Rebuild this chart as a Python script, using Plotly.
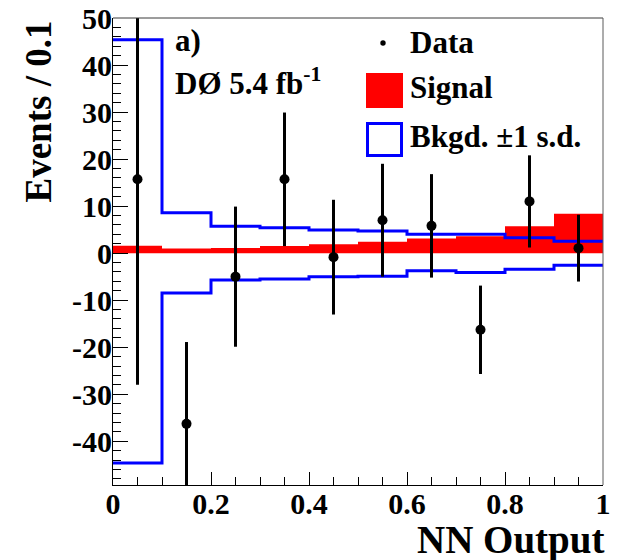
import plotly.graph_objects as go

# ---- data ----
bin_edges = [0.0, 0.1, 0.2, 0.3, 0.4, 0.5, 0.6, 0.7, 0.8, 0.9, 1.0]
bin_centers = [0.05, 0.15, 0.25, 0.35, 0.45, 0.55, 0.65, 0.75, 0.85, 0.95]
data_vals = [15.7, -36.3, -5.0, 15.7, -0.85, 7.0, 5.8, -16.3, 11.0, 1.06]
data_errs = [43.7, 17.4, 14.9, 14.2, 12.2, 12.0, 11.0, 9.4, 9.8, 7.1]
signal_vals = [1.55, 1.0, 1.1, 1.5, 1.9, 2.4, 3.1, 3.6, 5.7, 8.4]
bkgd_up = [45.4, 8.6, 5.7, 5.4, 4.9, 4.7, 4.0, 4.0, 3.25, 2.55]
bkgd_dn = [-44.6, -8.5, -5.7, -5.5, -5.0, -4.9, -3.75, -4.1, -3.4, -2.6]

y_tickvals = [-40, -30, -20, -10, 0, 10, 20, 30, 40, 50]
y_ticktext = ["-40", "-30", "-20", "-10", "0", "10", "20", "30", "40", "50"]
x_tickvals = [0, 0.2, 0.4, 0.6, 0.8, 1.0]
x_ticktext = ["0", "0.2", "0.4", "0.6", "0.8", "1"]

FONT = "Times New Roman"
W, H = 619, 560
L, R, T, B = 113, 603, 18, 485


def px(x):
    return (x - L) / (R - L)


def py(y):
    return (B - y) / (B - T)


def step(vals):
    return list(bin_edges), list(vals) + [vals[-1]]


fig = go.Figure()

sx, sy = step(signal_vals)
fig.add_trace(go.Scatter(x=sx, y=sy, mode="lines", line=dict(shape="hv", width=0, color="#ff0000"),
                         fill="tozeroy", fillcolor="#ff0000", hoverinfo="skip", showlegend=False))

ux, uy = step(bkgd_up)
fig.add_trace(go.Scatter(x=ux, y=uy, mode="lines", line=dict(shape="hv", width=3, color="#0000ff"),
                         showlegend=False))
dx, dy = step(bkgd_dn)
fig.add_trace(go.Scatter(x=dx, y=dy, mode="lines", line=dict(shape="hv", width=3, color="#0000ff"),
                         showlegend=False))

fig.add_trace(go.Scatter(x=bin_centers, y=data_vals, mode="markers",
                         marker=dict(size=10, color="black"),
                         error_y=dict(type="data", array=data_errs, visible=True,
                                      thickness=3, width=0, color="black"),
                         showlegend=False))

tickfont = dict(family=FONT, size=30, color="black", weight="bold")

fig.update_xaxes(range=[0, 1], showgrid=False, zeroline=False, automargin=False,
                 showline=True, linecolor="black", linewidth=1, mirror=False,
                 tickmode="array", tickvals=x_tickvals, ticktext=x_ticktext,
                 ticks="inside", ticklen=13, tickwidth=1, tickcolor="black",
                 tickfont=tickfont, ticklabelstandoff=-8,
                 minor=dict(tickmode="linear", tick0=0, dtick=0.05, ticks="inside",
                            ticklen=8, tickwidth=1, tickcolor="black"))
fig.update_yaxes(range=[-49.3, 50], showgrid=False, zeroline=False, automargin=False,
                 showline=True, linecolor="black", linewidth=1, mirror=False,
                 tickmode="array", tickvals=y_tickvals, ticktext=y_ticktext,
                 ticks="inside", ticklen=15, tickwidth=1, tickcolor="black",
                 tickfont=tickfont, ticklabelstandoff=-6,
                 minor=dict(tickmode="linear", tick0=0, dtick=2, ticks="inside",
                            ticklen=8, tickwidth=1, tickcolor="black"))

ann_font = dict(family=FONT, size=31, color="black", weight="bold")
title_font = dict(family=FONT, size=37, color="black", weight="bold")

annotations = [
    dict(text="a)", x=px(173), y=py(40), xanchor="left", yanchor="middle", font=ann_font),
    dict(text="DØ 5.4 fb<sup>-1</sup>", x=px(173), y=py(81.5), xanchor="left", yanchor="middle", font=ann_font),
    dict(text="Data", x=px(408), y=py(43), xanchor="left", yanchor="middle", font=ann_font),
    dict(text="Signal", x=px(408), y=py(87.5), xanchor="left", yanchor="middle", font=ann_font),
    dict(text="Bkgd. ±1 s.d.", x=px(408), y=py(136.5), xanchor="left", yanchor="middle", font=ann_font),
    dict(text="Events / 0.1", x=px(37.5), y=py(19), xanchor="center", yanchor="top",
         textangle=-90, font=title_font),
    dict(text="NN Output", x=px(606), y=py(540), xanchor="right", yanchor="middle",
         font=dict(family=FONT, size=39, color="black", weight="bold")),
]
for a in annotations:
    a.update(xref="paper", yref="paper", showarrow=False)

shapes = [
    # frame top and right (drawn in dark grey as in the original)
    dict(type="line", xref="paper", yref="paper", x0=0, x1=1, y0=1, y1=1,
         line=dict(color="#3a3a3a", width=1)),
    dict(type="line", xref="paper", yref="paper", x0=1, x1=1, y0=0, y1=1,
         line=dict(color="#5a5a5a", width=1)),
    # legend keys
    dict(type="rect", xref="paper", yref="paper", x0=px(366), x1=px(403), y0=py(108), y1=py(73),
         fillcolor="#ff0000", line=dict(width=0)),
    dict(type="rect", xref="paper", yref="paper", x0=px(367.5), x1=px(401.5), y0=py(155.5), y1=py(123.5),
         fillcolor="white", line=dict(color="#0000ff", width=3)),
    dict(type="circle", xref="paper", yref="paper", x0=px(380.3), x1=px(385.7), y0=py(45.7), y1=py(40.3),
         fillcolor="black", line=dict(width=0)),
]

fig.update_layout(width=W, height=H, margin=dict(l=L, r=W - R, t=T, b=H - B),
                  paper_bgcolor="white", plot_bgcolor="white",
                  annotations=annotations, shapes=shapes, showlegend=False,
                  font=dict(family=FONT, color="black"))

fig.write_html("out.html")
